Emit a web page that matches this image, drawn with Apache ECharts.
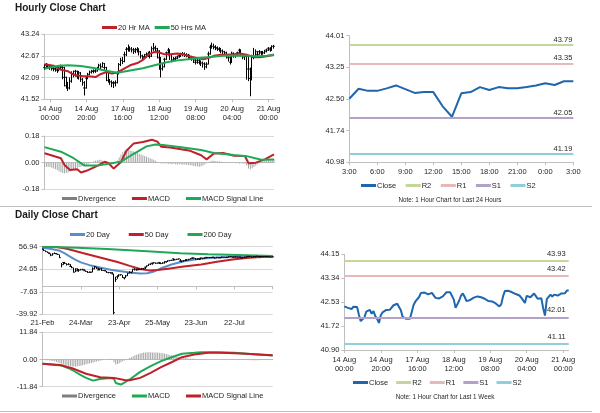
<!DOCTYPE html>
<html><head><meta charset="utf-8">
<script src="https://cdn.jsdelivr.net/npm/echarts@6/dist/echarts.min.js"></script>
<style>html,body{margin:0;padding:0;background:#fff}#c{width:600px;height:413px}</style>
</head><body><div id="c"></div>
<script>
// ---------- Hourly data (hour index -3 .. 123, index 0 = 14 Aug 00:00) ----------
const hourStart = -3;
const hourClose = [42.36,42.42,42.40,
42.38,42.35,42.33,42.32,42.29,42.37,42.38,42.36,42.10,41.88,
41.82,42.00,42.20,42.18,42.26,42.13,42.22,42.05,41.96,41.82,
42.08,42.18,42.24,42.26,42.27,42.27,42.33,42.42,42.38,42.47,
42.36,42.25,42.02,41.98,41.96,41.95,41.96,42.20,42.44,42.55,
42.52,42.70,42.84,42.86,42.85,42.83,42.79,42.83,42.84,42.78,
42.67,42.63,42.65,42.70,42.72,42.66,42.86,42.89,42.86,42.80,
42.62,42.33,42.38,42.58,42.75,42.82,42.70,42.56,42.58,42.60,
42.64,42.68,42.70,42.72,42.70,42.69,42.67,42.64,42.61,42.56,
42.50,42.55,42.50,42.48,42.46,42.38,42.45,42.72,42.90,42.92,
42.91,42.89,42.86,42.84,42.80,42.78,42.75,42.68,42.62,42.50,
42.74,42.69,42.69,42.75,42.82,42.73,42.64,42.66,42.66,42.32,
42.07,42.63,42.66,42.78,42.71,42.78,42.75,42.75,42.78,42.82,
42.87,42.83,42.92,42.92];
const hourHigh = [42.45,42.48,42.46,
42.44,42.42,42.40,42.38,42.37,42.42,42.44,42.42,42.38,42.12,
41.98,42.10,42.26,42.28,42.30,42.28,42.27,42.24,42.08,42.00,
42.12,42.22,42.28,42.30,42.31,42.32,42.38,42.46,42.47,42.50,
42.48,42.38,42.26,42.06,42.02,42.00,42.02,42.24,42.48,42.62,
42.64,42.78,42.90,42.97,42.92,42.90,42.88,42.88,42.90,42.87,
42.80,42.70,42.72,42.76,42.78,42.80,42.92,43.01,42.94,42.88,
42.82,42.64,42.46,42.62,42.78,42.88,42.84,42.72,42.64,42.65,
42.68,42.72,42.75,42.77,42.76,42.74,42.72,42.70,42.67,42.64,
42.60,42.60,42.58,42.55,42.52,42.50,42.50,42.78,42.96,43.02,
42.99,42.95,42.92,42.90,42.88,42.84,42.80,42.78,42.70,42.66,
42.78,42.76,42.74,42.78,42.86,42.84,42.74,42.70,42.70,42.68,
42.36,42.70,42.88,42.84,42.80,42.82,42.80,42.80,42.83,42.86,
42.90,42.90,42.95,42.96];
const hourLow = [42.30,42.34,42.35,
42.30,42.28,42.26,42.25,42.22,42.26,42.30,42.05,41.86,41.80,
41.74,41.78,41.96,42.10,42.12,42.06,42.04,41.98,41.88,41.62,
41.80,42.05,42.16,42.20,42.21,42.22,42.25,42.30,42.32,42.36,
42.30,42.00,41.96,41.90,41.84,41.82,41.86,41.94,42.18,42.40,
42.45,42.50,42.66,42.78,42.78,42.76,42.72,42.74,42.76,42.68,
42.60,42.56,42.58,42.62,42.64,42.60,42.64,42.80,42.78,42.60,
42.30,42.10,42.28,42.36,42.56,42.68,42.56,42.50,42.52,42.54,
42.58,42.62,42.64,42.66,42.64,42.63,42.60,42.58,42.54,42.48,
42.44,42.46,42.44,42.40,42.36,42.30,42.34,42.44,42.70,42.86,
42.84,42.82,42.80,42.78,42.74,42.72,42.68,42.60,42.52,42.44,
42.48,42.62,42.62,42.66,42.72,42.66,42.58,42.56,42.04,42.00,
41.60,42.02,42.58,42.66,42.64,42.70,42.69,42.70,42.72,42.76,
42.80,42.78,42.80,42.86];
const hourTickLabels = ['14 Aug\n00:00','14 Aug\n20:00','17 Aug\n16:00','18 Aug\n12:00','19 Aug\n08:00','20 Aug\n04:00','21 Aug\n00:00'];
const hourPriceTicks = ['41.52','42.09','42.67','43.24'];
const hourMacdTicks = ['-0.18','0.00','0.18'];
// [hour index, value]
const ma20Hr = [[-3,42.45],[2,42.41],[6,42.30],[10,42.26],[13,42.17],[18,42.13],[21,42.13],[25,42.11],[28,42.19],[31,42.24],[34,42.20],[37,42.23],[41,42.34],[44,42.42],[48,42.48],[51,42.56],[54,42.70],[57,42.77],[60,42.76],[63,42.71],[66,42.71],[70,42.73],[73,42.71],[77,42.65],[81,42.61],[84,42.58],[87,42.61],[90,42.67],[94,42.70],[97,42.70],[101,42.71],[104,42.73],[108,42.70],[112,42.63],[115,42.63],[119,42.66],[123,42.70]];
const ma50Hr = [[-3,42.33],[0,42.36],[5,42.41],[10,42.42],[17,42.40],[24,42.35],[30,42.28],[37,42.22],[44,42.28],[51,42.34],[58,42.43],[64,42.50],[70,42.55],[76,42.58],[82,42.61],[88,42.64],[95,42.67],[102,42.68],[108,42.67],[114,42.66],[119,42.67],[123,42.70]];
const macdHr = [[-3,0.063],[2,0.045],[6,0.03],[8,-0.016],[11,-0.049],[15,-0.045],[17,-0.067],[20,-0.055],[26,-0.022],[30,0.006],[32,-0.002],[35,-0.04],[39,0.005],[42,0.08],[46,0.13],[51,0.14],[56,0.155],[59,0.142],[61,0.108],[66,0.103],[72,0.09],[77,0.08],[83,0.05],[86,0.022],[90,0.062],[95,0.066],[101,0.046],[107,0.045],[109,-0.004],[113,0.0],[118,0.022],[123,0.056]];
const signalHr = [[-3,0.105],[6,0.074],[13,0.03],[19,-0.02],[26,-0.02],[33,-0.005],[39,0.007],[46,0.06],[53,0.11],[58,0.122],[62,0.12],[72,0.104],[83,0.085],[90,0.065],[101,0.052],[108,0.044],[116,0.02],[123,0.022]];
const divergenceHr = [-0.030,-0.030,-0.028,-0.030,
-0.035,-0.040,-0.045,-0.050,-0.058,-0.065,-0.070,
-0.072,-0.070,-0.065,-0.060,-0.055,-0.050,-0.045,
-0.035,-0.030,-0.028,-0.022,-0.018,-0.012,-0.008,
-0.004,0.002,0.008,0.012,0.016,0.020,0.018,
0.012,0.006,-0.002,-0.008,-0.010,-0.012,-0.008,
0.000,0.015,0.035,0.055,0.070,0.080,0.085,
0.085,0.082,0.078,0.075,0.070,0.065,0.060,
0.055,0.050,0.045,0.040,0.035,0.030,0.025,
0.020,0.012,0.005,-0.002,-0.005,-0.004,-0.005,
-0.006,-0.008,-0.008,-0.010,-0.008,-0.010,-0.012,
-0.010,-0.012,-0.014,-0.012,-0.015,-0.016,-0.018,
-0.020,-0.022,-0.024,-0.025,-0.027,-0.025,-0.020,
-0.012,-0.004,0.004,0.008,0.012,0.012,0.010,
0.010,0.008,0.006,0.004,0.003,0.002,0.000,
-0.002,-0.003,-0.002,-0.004,-0.003,-0.005,-0.004,
-0.006,-0.008,-0.020,-0.040,-0.045,-0.038,-0.030,
-0.020,-0.010,-0.004,0.004,0.010,0.014,0.016,
0.018,0.020,0.022,0.024];

// ---------- Last 24 hours / last week ----------
const hours24 = ['3:00','4:00','5:00','6:00','7:00','8:00','9:00','10:00','11:00','12:00','13:00','14:00','15:00','16:00','17:00','18:00','19:00','20:00','21:00','22:00','23:00','0:00','1:00','2:00','3:00'];
const ticks24 = ['40.98','41.74','42.50','43.25','44.01'];
const levelNames = ['R2','R1','S1','S2'];
const levels24 = [43.79,43.35,42.05,41.19];
const ticksWeek = ['40.90','41.72','42.53','43.34','44.15'];
const levelsWeek = [43.93,43.42,42.01,41.11];

// ---------- Daily data (index 0 = 21-Feb) ----------
const dayClose = [53.4,51.4,49.9,48.7,47.1,44.8,46.8,47.2,46.8,45.9,
41.3,31.1,34.4,33.0,31.5,31.7,28.7,27.0,20.4,25.2,
22.4,23.4,24.0,24.5,22.6,21.5,20.1,20.5,20.3,25.3,
28.3,26.1,23.6,25.1,22.8,22.8,22.4,20.1,19.9,19.9,
18.3,-37.6,10.0,13.8,16.5,16.9,12.8,12.3,15.1,18.8,
19.8,20.4,24.6,24.0,23.6,24.7,24.1,25.8,25.3,27.6,
29.4,31.8,32.5,33.5,33.9,33.3,33.3,34.4,32.8,33.7,
35.5,35.4,36.8,37.3,37.4,39.6,38.2,38.9,39.6,36.3,
36.3,37.1,38.4,38.0,38.8,39.8,40.7,40.4,39.0,39.7,
39.5,40.7,40.3,40.8,41.7,41.6,41.6,41.6,41.9,40.6,
41.6,41.1,41.3,42.2,41.8,41.6,41.8,43.0,42.9,42.1,
42.3,42.6,42.0,42.3,40.9,41.3,42.0,42.7,43.2,43.0,
42.2,42.9,42.6,43.2,42.8,42.6,42.9,42.9,42.9,42.8,
42.5,42.3,42.4];
const dayHigh = [54.2,53.3,51.6,50.0,48.7,47.3,47.5,48.7,47.9,46.9,
45.8,33.5,34.9,35.2,33.2,33.3,32.0,29.4,27.0,25.8,
25.9,25.0,25.2,25.2,24.7,23.0,22.0,21.3,21.0,27.4,
29.1,28.2,26.8,25.5,26.4,23.2,23.6,22.3,20.8,20.3,
20.4,18.3,13.9,16.0,17.1,17.4,16.6,12.7,16.4,19.3,
21.7,20.5,24.7,26.1,25.1,25.3,25.4,25.9,26.4,28.1,
30.0,32.0,32.7,34.0,34.7,34.1,34.0,34.8,34.6,34.5,
35.7,36.0,37.1,37.9,38.1,39.8,39.6,39.4,39.9,39.2,
37.0,37.3,38.5,38.6,39.5,40.2,41.7,41.5,40.8,39.8,
39.9,41.0,40.5,41.2,41.9,41.8,41.9,41.8,42.1,41.8,
41.7,41.6,41.6,42.2,42.0,41.8,42.0,43.2,43.2,42.5,
42.5,42.8,42.6,42.4,42.1,41.6,42.3,42.9,43.5,43.4,
42.9,42.9,43.0,43.7,43.5,43.2,43.6,43.6,43.5,43.3,
43.1,42.9,42.9];
const dayLow = [52.9,50.9,49.4,47.9,46.4,43.3,44.0,46.6,46.1,45.2,
40.8,27.3,30.9,32.5,30.0,30.5,28.0,26.2,20.1,20.5,
22.0,21.0,23.0,23.0,22.4,21.2,19.3,19.5,19.9,20.2,
24.6,25.1,23.4,22.9,22.3,22.3,21.8,19.8,18.8,18.5,
17.3,-39.9,6.5,10.9,13.7,15.5,12.2,10.1,11.9,14.8,
18.8,18.6,20.0,23.0,22.8,23.2,23.6,24.0,24.2,25.0,
27.2,29.3,30.6,31.1,32.8,32.4,32.7,32.2,32.0,32.4,
32.6,34.1,35.0,36.0,36.6,36.8,37.6,37.8,38.4,36.0,
34.4,35.4,36.4,36.6,37.4,38.6,39.6,39.7,38.2,38.1,
37.8,38.4,39.0,39.6,40.3,40.6,40.5,40.6,40.6,40.2,
40.2,40.6,40.4,40.8,41.2,41.0,41.0,41.5,42.2,41.6,
41.8,41.6,41.3,41.6,40.4,40.5,40.8,41.3,42.0,42.1,
41.6,41.6,41.7,42.2,42.3,41.9,42.3,42.5,42.6,42.2,
42.3,41.9,42.0];
const dayTickLabels = ['21-Feb','24-Mar','23-Apr','25-May','23-Jun','22-Jul'];
const dayPriceTicks = ['-39.92','-7.63','24.65','56.94'];
const dayMacdTicks = ['-11.84','0.00','11.84'];
// [day index, value]
const ma20Day = [[0,55.5],[5,53.5],[10,51],[13,47],[16,42.5],[19,38],[22,34.5],[27,30.5],[33,27],[39,24],[44,22],[50,20],[56,18.5],[60,18.8],[64,21.5],[68,26],[74,31.5],[81,36.2],[90,39.5],[100,41.3],[110,42.2],[121,42.6],[132,43]];
const ma50Day = [[0,57],[8,56.5],[14,54],[23,48],[33,41.5],[43,35],[50,29.5],[56,25],[61,23],[66,23.5],[72,25.5],[81,28.5],[91,31.5],[100,35.5],[110,38.8],[120,41.3],[132,43]];
const ma200Day = [[0,57],[20,55.5],[37,53.6],[60,50.5],[79,47.6],[95,46.2],[112,45],[132,43.5]];
const macdDay = [[0,-1.9],[11,-2.6],[15,-3.8],[18,-5.0],[22,-6.8],[25,-8.0],[29,-9.2],[33,-8.5],[39,-8.1],[41,-8.4],[42,-10.2],[45,-10.9],[50,-8.7],[56,-5.4],[62,-2.9],[68,-0.7],[74,1.0],[80,2.5],[87,2.9],[91,3.2],[100,3.2],[110,2.9],[121,2.3],[132,1.7]];
const signalDay = [[0,-1.9],[10,-2.4],[17,-3.8],[25,-6.2],[33,-7.7],[41,-8.0],[47,-8.9],[50,-9.0],[56,-8.0],[62,-5.8],[68,-3.3],[74,-1.2],[80,1.0],[87,2.2],[95,2.9],[102,2.9],[114,2.6],[132,1.9]];
const divergenceDay = [-0.2,-0.2,-0.3,-0.3,-0.4,-0.5,
-0.7,-0.9,-1.1,-1.3,-1.6,-1.9,
-2.2,-2.4,-2.6,-2.8,-2.9,-3.0,
-3.0,-3.0,-2.9,-2.8,-2.7,-2.5,
-2.3,-2.1,-1.9,-1.7,-1.5,-1.3,
-1.1,-0.9,-0.7,-0.5,-0.3,-0.2,
-0.1,0.1,0.2,0.3,0.2,-1.2,
-2.2,-2.0,-1.6,-1.2,-0.8,-0.4,
-0.1,0.3,0.7,1.0,1.4,1.8,
2.1,2.4,2.6,2.8,3.0,3.1,
3.2,3.2,3.2,3.1,3.1,3.0,
3.0,2.9,2.8,2.7,2.6,2.4,
2.2,2.0,1.8,1.6,1.4,1.2,
1.0,0.9,0.8,0.7,0.6,0.5,
0.45,0.4,0.35,0.3,0.25,0.2,
0.2,0.15,0.1,0.1,0.1,0.05,
0.05,0.05,0.0,0.0,0.05,0.0,
0.0,0.0,-0.05,0.0,-0.05,-0.05,
-0.1,-0.1,-0.1,-0.1,-0.15,-0.15,
-0.2,-0.2,-0.2,-0.25,-0.25,-0.3,
-0.3,-0.3,-0.3,-0.3,-0.3,-0.25,
-0.25,-0.2,-0.2,-0.2,-0.15,-0.15,-0.1];

// ---------- styling ----------
const FONT = '"Liberation Sans", Arial, sans-serif';
const TXT = '#262626', GRIDC = '#d9d9d9', AXC = '#bfbfbf';
const RED = '#c0202a', GREEN = '#1fa855', BLUE = '#5b8dc8', CLOSE = '#1f66ad';
const LEVEL_COLORS = ['#c3d69b','#e6b9b8','#b3a2c7','#92cddc'];
const FS = 7.5;

const hourCats = hourClose.map((_, i) => String(i + hourStart));
const weekCats = hourCats.slice(-hourStart);
const dayCats = dayClose.map((_, i) => String(i));
const hourShow = (i, v) => Number(v) >= 0 && Number(v) % 20 === 0;
const hourFmt = v => hourTickLabels[Number(v) / 20];
const dayShow = (i, v) => Number(v) % 22 === 0;
const dayFmt = v => dayTickLabels[Number(v) / 22];

function yAx(grid, ticks, split) {
  const min = Number(ticks[0]), max = Number(ticks[ticks.length - 1]);
  const step = (max - min) / (ticks.length - 1);
  return {
    type: 'value', gridIndex: grid, min: min, max: max, interval: step,
    axisLine: {show: true, lineStyle: {color: AXC}},
    axisTick: {show: true, length: 3, lineStyle: {color: AXC}},
    axisLabel: {fontSize: FS, color: TXT, fontFamily: FONT, margin: 5,
      formatter: v => ticks[Math.round((v - min) / step)]},
    splitLine: {show: split, lineStyle: {color: GRIDC}}
  };
}
function xAx(grid, cats, show, fmt, opt) {
  opt = opt || {};
  return {
    type: 'category', gridIndex: grid, data: cats, boundaryGap: false,
    position: opt.position || 'bottom',
    axisLine: {show: opt.line !== false, onZero: !!opt.onZero, lineStyle: {color: AXC}},
    axisTick: {show: opt.tick !== false, length: 3, inside: !!opt.inside, interval: show, lineStyle: {color: AXC}},
    axisLabel: {show: opt.label !== false, interval: show, formatter: fmt, fontSize: FS, color: TXT,
      fontFamily: FONT, margin: opt.margin || 5, lineHeight: 9},
    splitLine: {show: false}
  };
}
function lineSeries(name, x, y, data, color, width) {
  return {name: name, type: 'line', xAxisIndex: x, yAxisIndex: y, data: data, showSymbol: false,
    symbol: 'none', color: color, lineStyle: {color: color, width: width || 2}, itemStyle: {color: color},
    z: 3};
}
function levelSeries(idx, x, y, values, dist) {
  const val = values[idx];
  return {name: levelNames[idx], type: 'line', xAxisIndex: x, yAxisIndex: y, data: [],
    color: LEVEL_COLORS[idx], itemStyle: {color: LEVEL_COLORS[idx]}, lineStyle: {color: LEVEL_COLORS[idx]},
    markLine: {silent: true, symbol: ['none', 'none'], animation: false,
      lineStyle: {color: LEVEL_COLORS[idx], width: 2, type: 'solid'},
      label: {show: true, position: 'insideEndTop', distance: dist, fontSize: FS, color: TXT, fontFamily: FONT,
        formatter: () => val.toFixed(2)},
      emphasis: {disabled: true},
      data: [{yAxis: val}]}};
}
function legend(items, left, top, gap) {
  return {data: items, left: left, top: top, icon: 'rect', itemWidth: 15, itemHeight: 3, itemGap: gap,
    padding: 0, selectedMode: false,
    textStyle: {fontSize: FS, color: TXT, fontFamily: FONT, padding: [0, 0, 0, -4]}};
}
const mapHr = arr => arr.map(p => [p[0] - hourStart, p[1]]);

const option = {
  animation: false,
  backgroundColor: '#fff',
  textStyle: {fontFamily: FONT},
  grid: [
    {left: 44.5, top: 34.3, width: 229.5, height: 65, outerBoundsMode: 'none'},
    {left: 44.5, top: 136, width: 229.5, height: 53.3, outerBoundsMode: 'none'},
    {left: 349.3, top: 35.7, width: 224, height: 126.6, outerBoundsMode: 'none'},
    {left: 42.5, top: 246.7, width: 230.2, height: 67.6, outerBoundsMode: 'none'},
    {left: 42.5, top: 332.3, width: 230.2, height: 54.4, outerBoundsMode: 'none'},
    {left: 344.3, top: 254.3, width: 224.4, height: 95.7, outerBoundsMode: 'none'}
  ],
  xAxis: [
    xAx(0, hourCats, hourShow, hourFmt, {margin: 5}),
    xAx(1, hourCats, hourShow, hourFmt, {onZero: true, label: false, tick: false}),
    xAx(2, hours24, 2, null, {margin: 5}),
    xAx(3, dayCats, dayShow, dayFmt, {line: false, tick: false, margin: 4}),
    xAx(3, dayCats, dayShow, dayFmt, {position: 'top', onZero: true, label: false, inside: true}),
    xAx(4, dayCats, dayShow, dayFmt, {onZero: true, label: false, tick: false}),
    xAx(5, weekCats, hourShow, hourFmt, {margin: 5})
  ],
  yAxis: [
    yAx(0, hourPriceTicks, true),
    yAx(1, hourMacdTicks, true),
    yAx(2, ticks24, false),
    yAx(3, dayPriceTicks, true),
    yAx(4, dayMacdTicks, true),
    yAx(5, ticksWeek, false)
  ],
  legend: [
    legend(['20 Hr MA', '50 Hrs MA'], 102, 23.5, 5),
    legend([{name: 'Divergence', itemStyle: {color: '#7f7f7f'}}, 'MACD', 'MACD Signal Line'], 62, 194.5, 16),
    legend(['Close', 'R2', 'R1', 'S1', 'S2'], 361, 181.5, 9.5),
    legend(['20 Day', '50 Day', '200 Day'], 70, 230.5, 19),
    legend([{name: 'Divergence', itemStyle: {color: '#7f7f7f'}},
            {name: 'MACD', itemStyle: {color: GREEN}},
            {name: 'MACD Signal Line', itemStyle: {color: RED}}], 62, 392, 16),
    legend(['Close', 'R2', 'R1', 'S1', 'S2'], 353, 378.5, 8)
  ],
  graphic: [
    {type: 'text', left: 15, top: 3, style: {text: 'Hourly Close Chart', fontSize: 10, fontWeight: 'bold', fontFamily: FONT, fill: '#1a1a1a'}},
    {type: 'text', left: 15, top: 210.5, style: {text: 'Daily Close Chart', fontSize: 10, fontWeight: 'bold', fontFamily: FONT, fill: '#1a1a1a'}},
    {type: 'text', x: 450, y: 200, style: {text: 'Note: 1 Hour Chart for Last 24 Hours', fontSize: 6.3, fontFamily: FONT, fill: TXT, align: 'center', verticalAlign: 'middle'}},
    {type: 'text', x: 445, y: 397.5, style: {text: 'Note: 1 Hour Chart for Last 1 Week', fontSize: 6.3, fontFamily: FONT, fill: TXT, align: 'center', verticalAlign: 'middle'}},
    {type: 'line', shape: {x1: 0, y1: 206.5, x2: 592, y2: 206.5}, style: {stroke: '#c0c0c0', lineWidth: 1}},
    {type: 'line', shape: {x1: 0, y1: 411.5, x2: 592, y2: 411.5}, style: {stroke: '#c0c0c0', lineWidth: 1}}
  ],
  series: [
    // hourly price
    {name: 'Hourly', type: 'candlestick', xAxisIndex: 0, yAxisIndex: 0, barWidth: 2,
      data: hourClose.map((c, i) => [c, c, hourLow[i], hourHigh[i]]),
      itemStyle: {color: '#000', color0: '#000', borderColor: '#000', borderColor0: '#000', borderWidth: 1}, z: 2},
    lineSeries('20 Hr MA', 0, 0, mapHr(ma20Hr), RED, 2),
    lineSeries('50 Hrs MA', 0, 0, mapHr(ma50Hr), GREEN, 2),
    // hourly MACD
    {name: 'Divergence', type: 'bar', xAxisIndex: 1, yAxisIndex: 1, data: divergenceHr, barWidth: 1,
      color: '#a6a6a6', itemStyle: {color: '#a6a6a6'}, z: 2},
    lineSeries('MACD', 1, 1, mapHr(macdHr), RED, 2),
    lineSeries('MACD Signal Line', 1, 1, mapHr(signalHr), GREEN, 2),
    // last 24 hours
    lineSeries('Close', 2, 2, hourClose.slice(hourClose.length - hours24.length), CLOSE, 2),
    levelSeries(0, 2, 2, levels24, 1), levelSeries(1, 2, 2, levels24, 1),
    levelSeries(2, 2, 2, levels24, 1), levelSeries(3, 2, 2, levels24, 1),
    // daily price
    {name: 'Daily', type: 'candlestick', xAxisIndex: 3, yAxisIndex: 3, barWidth: 1.5,
      data: dayClose.map((c, i) => [c, c, dayLow[i], dayHigh[i]]),
      itemStyle: {color: '#000', color0: '#000', borderColor: '#000', borderColor0: '#000', borderWidth: 1}, z: 4},
    lineSeries('20 Day', 3, 3, ma20Day, BLUE, 2),
    lineSeries('50 Day', 3, 3, ma50Day, RED, 2),
    lineSeries('200 Day', 3, 3, ma200Day, GREEN, 2),
    // daily MACD
    {name: 'Divergence', type: 'bar', xAxisIndex: 5, yAxisIndex: 4, data: divergenceDay, barWidth: 1,
      color: '#a6a6a6', itemStyle: {color: '#a6a6a6'}, z: 2},
    lineSeries('MACD', 5, 4, macdDay, GREEN, 2),
    lineSeries('MACD Signal Line', 5, 4, signalDay, RED, 2),
    // last week
    lineSeries('Close', 6, 5, hourClose.slice(-hourStart), CLOSE, 2),
    levelSeries(0, 6, 5, levelsWeek, 3), levelSeries(1, 6, 5, levelsWeek, 3),
    levelSeries(2, 6, 5, levelsWeek, 3), levelSeries(3, 6, 5, levelsWeek, 3)
  ]
};
const chart = echarts.init(document.getElementById('c'), null, {width: 600, height: 413});
chart.setOption(option);
</script></body></html>
